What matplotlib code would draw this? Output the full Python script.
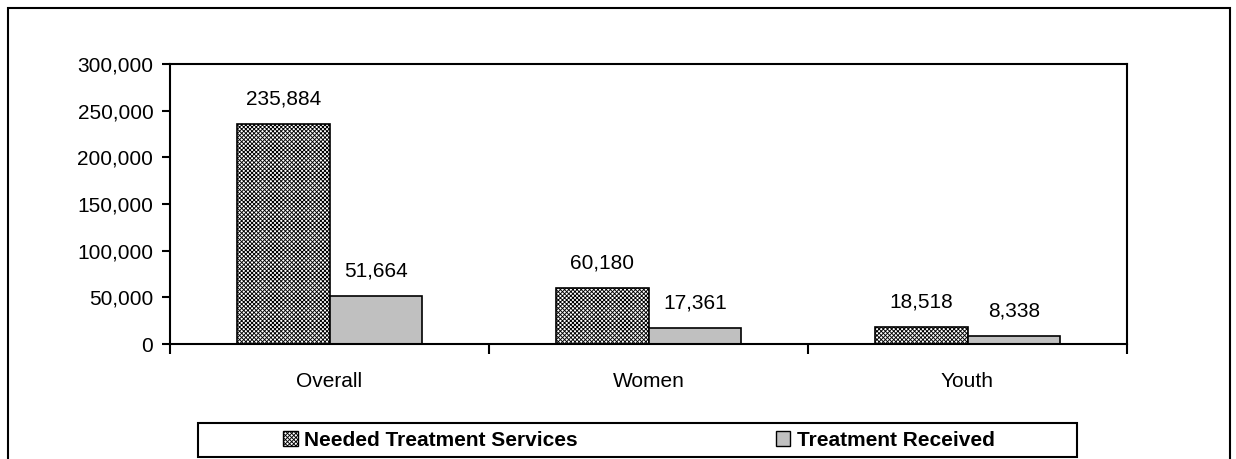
import numpy as np
import matplotlib.pyplot as plt
from matplotlib.patches import Rectangle, Patch
from matplotlib.ticker import FuncFormatter

plt.rcParams['font.family'] = ['Liberation Sans', 'DejaVu Sans']
plt.rcParams['hatch.linewidth'] = 0.65

categories = ["Overall", "Women", "Youth"]
needed = [235884, 60180, 18518]
received = [51664, 17361, 8338]
series_names = ["Needed Treatment Services", "Treatment Received"]

W, H = 1236, 459
fig = plt.figure(figsize=(W / 100, H / 100), dpi=100)
ax = fig.add_axes([170 / W, 1 - 344 / H, (1127 - 170) / W, (344 - 64) / H])

x = np.arange(len(categories))
bw = 0.29
pattern = "xxxxxxxx"
b1 = ax.bar(x - bw / 2, needed, bw, facecolor="white", edgecolor="black",
            hatch=pattern, linewidth=1.2)
b2 = ax.bar(x + bw / 2, received, bw, facecolor="#c0c0c0", edgecolor="black",
            linewidth=1.2)

for bars, vals in ((b1, needed), (b2, received)):
    for rect, v in zip(bars, vals):
        ax.annotate(f"{v:,}", (rect.get_x() + rect.get_width() / 2, v),
                    xytext=(0, 11), textcoords="offset points",
                    ha="center", va="bottom", fontsize=15)

ax.set_xlim(-0.5, len(categories) - 0.5)
ax.set_ylim(0, 300000)
ax.set_yticks(np.arange(0, 300001, 50000))
ax.yaxis.set_major_formatter(FuncFormatter(lambda v, p: f"{int(v):,}"))
ax.set_xticks(x)
ax.set_xticklabels(categories, fontsize=15)
ax.set_xticks(np.arange(-0.5, len(categories)), minor=True)
ax.tick_params(axis="x", which="major", length=0, pad=20)
ax.tick_params(axis="x", which="minor", length=7, width=1.5, direction="out")
ax.tick_params(axis="y", length=6, width=1.5, direction="out", labelsize=15, pad=6)
for s in ax.spines.values():
    s.set_linewidth(1.5)

# legend frame and outer chart border
fig.patches.append(Rectangle((198 / W, 1 - 457 / H), (1077 - 198) / W, 34 / H,
                             transform=fig.transFigure, fill=False,
                             edgecolor="black", linewidth=1.5))
fig.patches.append(Rectangle((8 / W, -0.1), (1230 - 8) / W, 1 - 8 / H + 0.1,
                             transform=fig.transFigure, fill=False,
                             edgecolor="black", linewidth=1.5, clip_on=False))

handles = [Patch(facecolor="white", edgecolor="black", hatch=pattern),
           Patch(facecolor="#c0c0c0", edgecolor="black")]
fig.legend(handles, series_names, loc="center",
           bbox_to_anchor=(639 / W, 1 - 440 / H), ncol=2, frameon=False,
           prop={"weight": "bold", "size": 15}, handlelength=0.7,
           handleheight=0.7, handletextpad=0.3, columnspacing=9.5)

fig.savefig("out.png", dpi=100)
